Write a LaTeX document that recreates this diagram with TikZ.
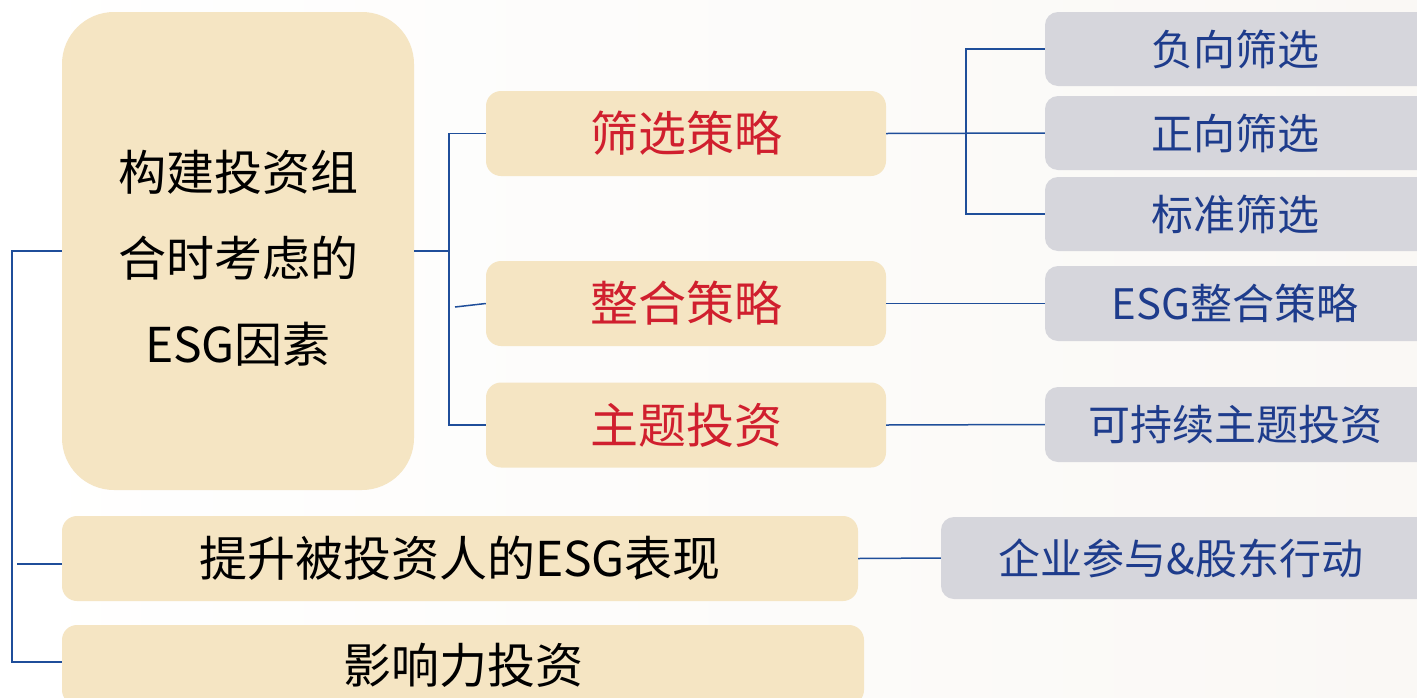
\documentclass[tikz,border=0pt]{standalone}
\usepackage{fontspec}
\setmainfont{Noto Sans CJK SC}
\definecolor{beige}{HTML}{F5E5C3}
\definecolor{greybox}{HTML}{D6D6DC}
\definecolor{redtxt}{HTML}{D01F2E}
\definecolor{bluetxt}{HTML}{1E3C8C}
\definecolor{linec}{HTML}{1F4E9A}
\definecolor{bgright}{HTML}{FAF8F5}
\tikzset{
  mainbox/.style={fill=beige, rounded corners=52pt, minimum width=352pt, minimum height=478pt, inner sep=0pt},
  redbox/.style={fill=beige, rounded corners=15pt, minimum width=400pt, minimum height=85pt, inner sep=0pt, text=redtxt, font=\fontsize{48}{56}\selectfont},
  widebox/.style={fill=beige, rounded corners=15pt, minimum height=85pt, inner sep=0pt, text=black, font=\fontsize{48}{56}\selectfont},
  greyitem/.style={fill=greybox, rounded corners=13pt, minimum height=74pt, inner sep=0pt, text=bluetxt, font=\fontsize{42}{50}\selectfont},
  conn/.style={draw=linec, line width=1.5pt},
  maintxt/.style={align=center, text=black, font=\fontsize{48}{86}\selectfont, inner sep=0pt}
}
\begin{document}
\begin{tikzpicture}[x=1pt, y=-1pt]
\useasboundingbox (0,0) rectangle (1417,697);
\shade[left color=white, right color=bgright] (0,0) rectangle (1417,697);
\begin{scope}
\clip (0,0) rectangle (1417,697);
% boxes
\node[mainbox] (m) at (238,251) {};
\node[maintxt] (mt) at (238,258) {构建投资组\\合时考虑的\\ESG因素};
\node[redbox] (s1) at (686,133.5) {筛选策略};
\node[redbox] (s2) at (686,303.5) {整合策略};
\node[redbox] (s3) at (686,425) {主题投资};
\node[widebox, minimum width=796pt] (b1) at (460,558.5) {提升被投资人的ESG表现};
\node[widebox, minimum width=802pt, minimum height=80pt] (b2) at (463,665) {影响力投资};
\node[greyitem, minimum width=385pt] (g1) at (1237.5,49) {\hspace*{-5pt}负向筛选};
\node[greyitem, minimum width=385pt] (g2) at (1237.5,133) {\hspace*{-5pt}正向筛选};
\node[greyitem, minimum width=385pt] (g3) at (1237.5,214) {\hspace*{-5pt}标准筛选};
\node[greyitem, minimum width=385pt, minimum height=75pt] (g4) at (1237.5,303.5) {\hspace*{-5pt}ESG整合策略};
\node[greyitem, minimum width=385pt, minimum height=75pt] (g5) at (1237.5,424.5) {\hspace*{-5pt}可持续主题投资};
\node[greyitem, minimum width=489pt, minimum height=82pt] (g6) at (1185.5,558) {\hspace*{-9pt}企业参与\&股东行动};
\end{scope}
% junctions
\coordinate (ja) at (449,251);
\coordinate (sl) at (455,307);
\coordinate (jb) at (966,133);
\coordinate (jc) at (12,456);
\coordinate (lt) at (17,564);
\coordinate (lb) at (62,662);
% connectors
\draw[conn] (m.east) -- (ja);
\draw[conn] (s1.west) -| (ja) |- (s3.west);
\draw[conn] (sl) -- (s2.west);
\draw[conn] (s1.east) -- (g2.west);
\draw[conn] (g1.west) -| (jb) |- (g3.west);
\draw[conn] (s2.east) -- (g4.west);
\draw[conn] (s3.east) -- (g5.west);
\draw[conn] (b1.east) -- (g6.west);
\draw[conn] (m.west) -| (jc) |- (lb);
\draw[conn] (lt) -- (lt -| b1.west);
\end{tikzpicture}
\end{document}
